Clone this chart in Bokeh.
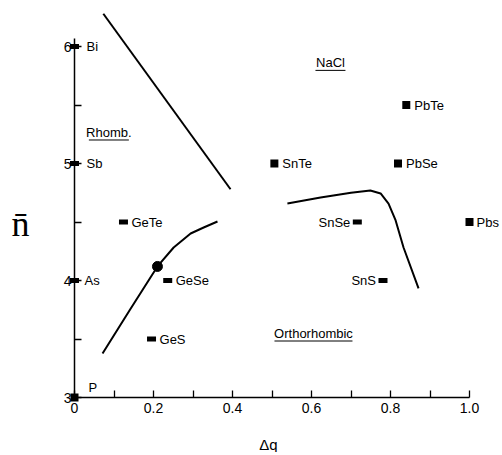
from bokeh.plotting import figure
from bokeh.models import ColumnDataSource, FixedTicker, Label, LinearAxis, Range1d
from bokeh.core.properties import value
from bokeh.embed import file_html
from bokeh.resources import INLINE

# ---- data ----
# compounds drawn as filled squares
sq_names = ["P", "SnTe", "PbTe", "PbSe", "Pbs"]
sq_dq = [0.0, 0.506, 0.840, 0.819, 1.0]
sq_n = [3.0, 5.0, 5.5, 5.0, 4.5]

# compounds drawn as short bars
bar_names = ["Bi", "Sb", "As", "GeTe", "GeSe", "GeS", "SnSe", "SnS"]
bar_dq = [0.0, 0.0, 0.0, 0.124, 0.236, 0.195, 0.716, 0.781]
bar_n = [6.0, 5.0, 4.0, 4.5, 4.0, 3.5, 4.5, 4.0]

# phase boundaries
b1_dq = [0.073, 0.395]
b1_n = [6.28, 4.78]
b2_dq = [0.071, 0.140, 0.210, 0.251, 0.294, 0.327, 0.362]
b2_n = [3.376, 3.748, 4.120, 4.282, 4.402, 4.453, 4.504]
b3_dq = [0.539, 0.623, 0.700, 0.749, 0.775, 0.795, 0.813, 0.833, 0.871]
b3_n = [4.658, 4.709, 4.750, 4.769, 4.744, 4.658, 4.513, 4.282, 3.932]

# special point on boundary
dot_dq = [0.210]
dot_n = [4.120]

# region names
region_names = ["NaCl", "Rhomb.", "Orthorhombic"]
region_dq = [0.648, 0.087, 0.605]
region_n = [5.86, 5.265, 3.547]

# axis ticks
x_ticks = [0.0, 0.2, 0.4, 0.6, 0.8, 1.0]
x_tick_labels = ["0", "0.2", "0.4", "0.6", "0.8", "1.0"]
x_minor = [0.1, 0.3, 0.5, 0.7, 0.9]
y_ticks = [3, 4, 5, 6]
y_tick_labels = ["3", "4", "5", "6"]
y_minor = [3.5, 4.5, 5.5]

# ---- layout (picture pixel mapping) ----
W, H = 500, 452
OFF = 0
PX_X, PX_Y = 395.0, 117.0   # pixels per data unit
X0_PAGE, Y3_PAGE = 74.0, 397.0

x_start = (OFF - X0_PAGE) / PX_X
x_end = (OFF + W - X0_PAGE) / PX_X
y_end = 3 + (Y3_PAGE - OFF) / PX_Y
y_start = 3 - (OFF + H - Y3_PAGE) / PX_Y

p = figure(width=W, height=H, output_backend="svg", toolbar_location=None,
           x_range=Range1d(x_start, x_end), y_range=Range1d(y_start, y_end),
           x_axis_location=None, y_axis_location=None,
           min_border_left=0, min_border_right=0, min_border_top=0, min_border_bottom=0)
p.outline_line_color = None
p.grid.visible = False
p.background_fill_color = "white"

FONT = "Liberation Sans"

yax = LinearAxis(fixed_location=0, bounds=(3, 6.07),
                 ticker=FixedTicker(ticks=y_ticks, minor_ticks=y_minor))
yax.major_label_overrides = {t: l for t, l in zip(y_ticks, y_tick_labels)}
xax = LinearAxis(fixed_location=3, bounds=(0, 1.0),
                 ticker=FixedTicker(ticks=x_ticks, minor_ticks=x_minor))
xax.major_label_overrides = {t: l for t, l in zip(x_ticks, x_tick_labels)}
for ax in (xax, yax):
    ax.axis_line_color = "black"
    ax.axis_line_width = 1.5
    ax.major_tick_in = 7
    ax.major_tick_out = 0
    ax.minor_tick_in = 7
    ax.minor_tick_out = 0
    ax.major_tick_line_width = 1.3
    ax.minor_tick_line_width = 1.3
    ax.major_tick_line_color = "black"
    ax.minor_tick_line_color = "black"
    ax.major_label_text_font = FONT
    ax.major_label_text_font_size = "14px"
    ax.major_label_text_color = "black"
xax.major_label_standoff = 5
yax.major_label_standoff = 3
p.add_layout(yax, "left")
p.add_layout(xax, "below")

# boundaries
p.line(b1_dq, b1_n, line_color="black", line_width=2)
p.line(b2_dq, b2_n, line_color="black", line_width=2)
p.line(b3_dq, b3_n, line_color="black", line_width=2)
p.scatter(dot_dq, dot_n, marker="circle", size=10, fill_color="black", line_color="black")

# markers
p.rect(sq_dq, sq_n, width=8, height=8, width_units="screen", height_units="screen",
       fill_color="black", line_color=None)
p.rect(bar_dq, bar_n, width=9, height=5, width_units="screen", height_units="screen",
       fill_color="black", line_color=None)

# compound labels
names = sq_names + bar_names
lab_x = sq_dq + bar_dq
lab_y = sq_n + bar_n
default_place = (8, 0, "left")
place = {"P": (14, -10, "left"), "SnSe": (-7, 0, "right"), "SnS": (-7, 0, "right"),
         "Pbs": (7, 0, "left"), "Bi": (12, 0, "left"), "Sb": (12, 0, "left"),
         "As": (10, 0, "left")}
src = ColumnDataSource(dict(
    x=lab_x, y=lab_y, text=names,
    xo=[place.get(n, default_place)[0] for n in names],
    yo=[place.get(n, default_place)[1] for n in names],
    al=[place.get(n, default_place)[2] for n in names],
))
p.text(x="x", y="y", text="text", x_offset="xo", y_offset="yo", text_align="al",
       text_baseline="middle", text_font=value(FONT), text_font_size="13px",
       text_color="black", source=src)

# region labels with underline
rsrc = ColumnDataSource(dict(x=region_dq, y=region_n, text=region_names))
p.text(x="x", y="y", text="text", text_align="center", text_baseline="middle",
       text_font=value(FONT), text_font_size="13px", text_color="black", source=rsrc)
ul_px = [30, 40, 78]
ul_gap = 7.5 / PX_Y
p.segment(x0=[x - w / 2 / PX_X for x, w in zip(region_dq, ul_px)],
          y0=[y - ul_gap for y in region_n],
          x1=[x + w / 2 / PX_X for x, w in zip(region_dq, ul_px)],
          y1=[y - ul_gap for y in region_n],
          line_color="black", line_width=1)

# axis titles
p.add_layout(Label(x=(20 - X0_PAGE) / PX_X, y=3 + (Y3_PAGE - 223) / PX_Y, text="n\u0304",
                   text_align="center", text_baseline="alphabetic",
                   text_font="Liberation Sans Narrow", text_font_size="36px", text_color="black"))
p.add_layout(Label(x=(268 - X0_PAGE) / PX_X, y=3 - (444 - Y3_PAGE) / PX_Y, text="\u0394q",
                   text_align="center", text_baseline="middle",
                   text_font=FONT, text_font_size="15px", text_color="black"))

open("out.html", "w").write(file_html(p, INLINE))
